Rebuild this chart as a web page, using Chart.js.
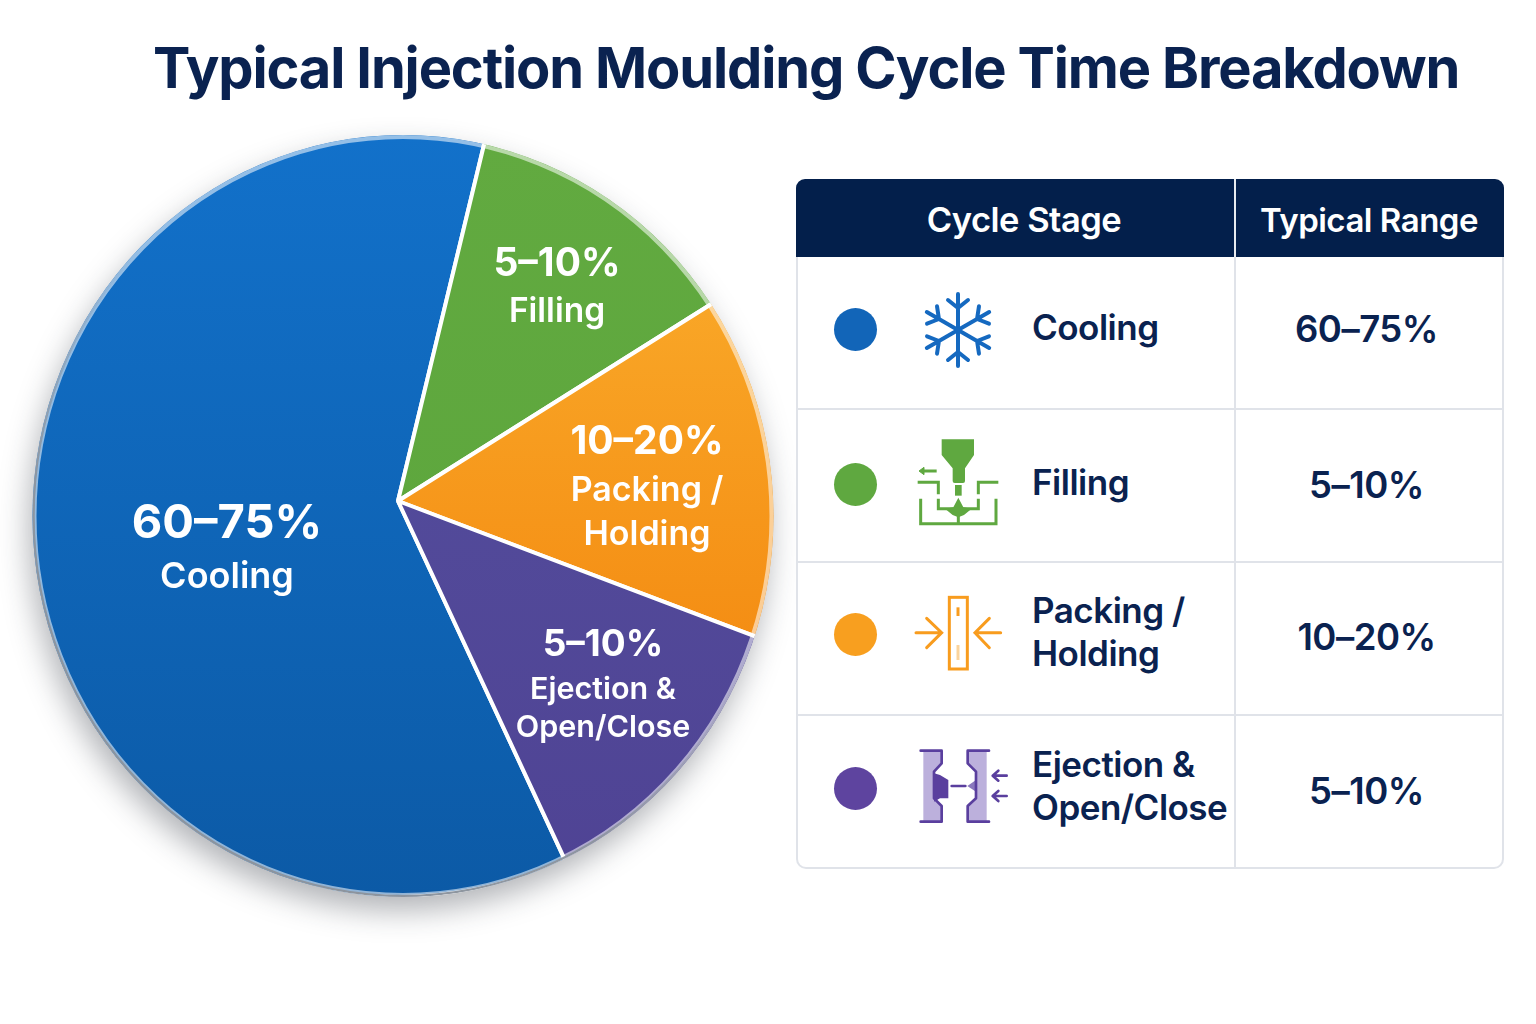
<!DOCTYPE html>
<html lang="en">
<head>
<meta charset="utf-8">
<title>Typical Injection Moulding Cycle Time Breakdown</title>
<script src="https://cdn.jsdelivr.net/npm/chart.js@4"></script>
<style>
  html, body { margin: 0; padding: 0; background: #fff; }
  body { position: relative; width: 1536px; height: 1024px; overflow: hidden; font-family: Inter, "Noto Sans", sans-serif; color: #0a2250; }
  #pie { position: absolute; left: 0; top: 0; }
  h1 { position: absolute; left: 153px; top: 32px; margin: 0; font-size: 56px; line-height: 72px; font-weight: 700; letter-spacing: -1.15px; white-space: nowrap; color: #0a2250; }
  .abs { position: absolute; }
  #table { position: absolute; left: 796px; top: 179px; width: 708px; height: 690px; box-sizing: border-box; border: 2px solid #e0e3e9; border-top: 0; border-radius: 10px; }
  #head { position: absolute; left: 796px; top: 179px; width: 708px; height: 78px; background: #031f4b; border-radius: 9px 9px 0 0; }
  .th { position: absolute; top: 179px; height: 78px; line-height: 82px; text-align: center; color: #fff; font-size: 33px; font-weight: 600; letter-spacing: -0.5px; }
  .rule { position: absolute; background: #e0e3e9; }
  .dot { position: absolute; width: 43px; height: 43px; border-radius: 50%; }
  .stage { position: absolute; left: 1032px; font-size: 35px; line-height: 43px; font-weight: 600; letter-spacing: -0.5px; white-space: pre; transform: translateY(-50%); }
  .range { position: absolute; left: 1236px; width: 261px; text-align: center; font-size: 36.5px; line-height: 43px; font-weight: 600; letter-spacing: -0.5px; transform: translateY(-50%); }
</style>
</head>
<body>
<canvas id="pie" width="796" height="1002" style="width:796px;height:1002px"></canvas>
<h1>Typical Injection Moulding Cycle Time Breakdown</h1>

<div id="table"></div>
<div id="head"></div>
<div class="th" style="left:796px;width:438px;padding-left:18px;box-sizing:border-box;font-size:34.5px">Cycle Stage</div>
<div class="th" style="left:1236px;width:266px">Typical Range</div>
<div class="rule" style="left:1234px;top:179px;width:2px;height:690px"></div>
<div class="rule" style="left:1234px;top:179px;width:2px;height:78px;background:#e8ebf0"></div>
<div class="rule" style="left:797px;top:408px;width:706px;height:2px"></div>
<div class="rule" style="left:797px;top:561px;width:706px;height:2px"></div>
<div class="rule" style="left:797px;top:714px;width:706px;height:2px"></div>

<!-- Snowflake: cooling -->
<svg class="abs" style="left:918px;top:290px" width="80" height="80" viewBox="-40 -40 80 80" fill="none" stroke="#1569c0" stroke-width="4" stroke-linecap="round" stroke-linejoin="round">
  <defs>
    <g id="arm"><path d="M0 0V-36M-10 -30L0 -22L10 -30"/></g>
  </defs>
  <use href="#arm"/><use href="#arm" transform="rotate(60)"/><use href="#arm" transform="rotate(120)"/>
  <use href="#arm" transform="rotate(180)"/><use href="#arm" transform="rotate(240)"/><use href="#arm" transform="rotate(300)"/>
</svg>

<!-- Nozzle over a mould cavity: filling -->
<svg class="abs" style="left:890px;top:420px" width="150" height="130" viewBox="0 0 450 390" fill="none" stroke="#5fa840" stroke-width="9">
  <path d="M155 58H252V105L225 145V183Q225 189 219 189H194Q188 189 188 183V145L155 105Z" fill="#5fa840" stroke="none"/>
  <path d="M97 153H140"/><path d="M87 153L102 142V164Z" fill="#5fa840" stroke-width="3"/>
  <path d="M83 187H145V223M325 187H265V223"/>
  <rect x="195" y="195" width="20" height="32" fill="#5fa840" stroke="none"/>
  <path d="M145 236V266H265V236"/>
  <path d="M165 266L190 262L205 233L220 262L245 266L222 285L205 292L188 285Z" fill="#5fa840" stroke="none"/>
  <path d="M92 236V311H318V236M205 285V311"/>
</svg>

<!-- Part squeezed from both sides: packing / holding -->
<svg class="abs" style="left:890px;top:580px" width="150" height="110" viewBox="0 0 450 330" fill="none" stroke="#f89c1e" stroke-width="9" stroke-linecap="round">
  <rect x="178" y="52" width="54" height="215" stroke-linecap="butt"/>
  <path d="M204 82V108" stroke-linecap="butt"/>
  <path d="M204 195V240" stroke="#fbd49c" stroke-linecap="butt"/>
  <path d="M78 158H155M110 115L155 158L110 203"/>
  <path d="M332 158H255M298 115L255 158L298 203"/>
</svg>

<!-- Open mould halves with ejector: ejection & open/close -->
<svg class="abs" style="left:890px;top:730px" width="150" height="110" viewBox="0 0 450 330" fill="none" stroke="#5a3f9e" stroke-width="8" stroke-linecap="round" stroke-linejoin="round">
  <path d="M100 62H155V100L132 125V205L155 228V275H100Z" fill="#bcb0dc" stroke="none"/>
  <path d="M92 62H155V100L132 125V205L155 228V275H92"/>
  <path d="M132 130L150 135L175 150V205H150L132 215Z" fill="#5a3f9e" stroke="none"/>
  <path d="M185 168H226"/>
  <path d="M232 168L258 150V185Z" fill="#8a78bd" stroke="none"/>
  <path d="M290 62H233V100L258 125V205L233 228V275H290Z" fill="#bcb0dc" stroke="none"/>
  <path d="M297 62H233V100L258 125V205L233 228V275H297"/>
  <path d="M310 137H350M325 122L308 137L325 152"/>
  <path d="M310 198H350M325 183L308 198L325 213"/>
</svg>

<script>
// Share of the cycle per stage, in percent, and what each row states.
const stages = ["Cooling", "Filling", "Packing /\nHolding", "Ejection &\nOpen/Close"];
const shares = [60.7, 12.3, 14.7, 12.3];
const ranges = ["60–75%", "5–10%", "10–20%", "5–10%"];
const topColors = ["#1271ca", "#62aa40", "#fbb230", "#55509f"];
const bottomColors = ["#0c5aa6", "#5aa43b", "#f17b05", "#4f4394"];
const dotColors = ["#1265b8", "#5fa840", "#f89f1f", "#5e449f"];
const rowMiddles = [329, 484, 634, 788];
const stageMiddles = [327, 482, 632, 786];
const rangeMiddles = [329, 485, 637, 791];

// Where the text of each slice sits: x, then the y of the range and of each name line.
const sliceText = [
  { x: 227, rangeY: 524, rangeSize: 47, nameY: [577], nameSize: 36 },
  { x: 557, rangeY: 264, rangeSize: 39, nameY: [312], nameSize: 33.5 },
  { x: 647, rangeY: 442, rangeSize: 39, nameY: [491, 535], nameSize: 34 },
  { x: 603, rangeY: 645, rangeSize: 37, nameY: [690, 728], nameSize: 30.5 }
];

// Rim of the disc: slightly taller than wide, with the hub above its middle.
const rim = { x: 403, y: 516, rx: 370.5, ry: 381 };
const HUB_ANGLE = 155.05;

stages.forEach((name, i) => {
  const dot = document.createElement("div");
  dot.className = "dot";
  dot.style.cssText = `left:834px;top:${rowMiddles[i] - 21.5}px;background:${dotColors[i]}`;
  document.body.appendChild(dot);

  const label = document.createElement("div");
  label.className = "stage";
  label.style.top = stageMiddles[i] + "px";
  label.textContent = name;
  document.body.appendChild(label);

  const range = document.createElement("div");
  range.className = "range";
  range.style.top = rangeMiddles[i] + "px";
  range.textContent = ranges[i];
  document.body.appendChild(range);
});

function rimPath(ctx, inset) {
  ctx.beginPath();
  ctx.ellipse(rim.x, rim.y, rim.rx - inset, rim.ry - inset, 0, 0, Math.PI * 2);
}

const discRim = {
  id: "discRim",
  beforeDatasetsDraw(chart) {
    const ctx = chart.ctx;
    ctx.save();
    ctx.shadowColor = "rgba(40,45,55,0.36)";
    ctx.shadowBlur = 30;
    ctx.shadowOffsetX = -4;
    ctx.shadowOffsetY = 14;
    ctx.fillStyle = "#c9d3de";
    rimPath(ctx, 0.5);
    ctx.fill();
    ctx.restore();
    ctx.save();
    rimPath(ctx, 0);
    ctx.clip();
  },
  afterDatasetsDraw(chart) {
    const ctx = chart.ctx;
    // Pale bevel just inside the edge, then a grey lip on the lower left.
    ctx.lineWidth = 4;
    ctx.strokeStyle = "rgba(255,255,255,0.55)";
    rimPath(ctx, 2);
    ctx.stroke();
    const lip = ctx.createLinearGradient(rim.x + 250, rim.y - 300, rim.x - 150, rim.y + 320);
    lip.addColorStop(0, "rgba(140,148,158,0)");
    lip.addColorStop(0.42, "rgba(140,148,158,0)");
    lip.addColorStop(0.75, "rgba(140,148,158,0.95)");
    lip.addColorStop(1, "rgba(140,148,158,1)");
    ctx.lineWidth = 2.5;
    ctx.strokeStyle = lip;
    rimPath(ctx, 1);
    ctx.stroke();
    ctx.restore();
  }
};

const sliceLabels = {
  id: "sliceLabels",
  afterDraw(chart) {
    const ctx = chart.ctx;
    ctx.save();
    ctx.fillStyle = "#ffffff";
    ctx.textAlign = "center";
    ctx.textBaseline = "middle";
    sliceText.forEach((t, i) => {
      ctx.font = `700 ${t.rangeSize}px Inter`;
      ctx.fillText(ranges[i], t.x, t.rangeY);
      ctx.font = `600 ${t.nameSize}px Inter`;
      stages[i].split("\n").forEach((line, j) => ctx.fillText(line, t.x, t.nameY[j]));
    });
    ctx.restore();
  }
};

new Chart(document.getElementById("pie"), {
  type: "pie",
  data: {
    labels: stages.map(s => s.replace("\n", " ")),
    datasets: [{
      data: shares,
      backgroundColor(c) {
        const g = c.chart.ctx.createLinearGradient(0, 136, 0, 896);
        g.addColorStop(0, topColors[c.dataIndex]);
        g.addColorStop(1, bottomColors[c.dataIndex]);
        return g;
      },
      borderColor: "#ffffff",
      borderWidth: 4,
      hoverOffset: 0
    }]
  },
  options: {
    responsive: false,
    animation: false,
    events: [],
    rotation: HUB_ANGLE,
    layout: { padding: 0 },
    plugins: { legend: { display: false }, tooltip: { enabled: false } }
  },
  plugins: [discRim, sliceLabels]
});
</script>
</body>
</html>
